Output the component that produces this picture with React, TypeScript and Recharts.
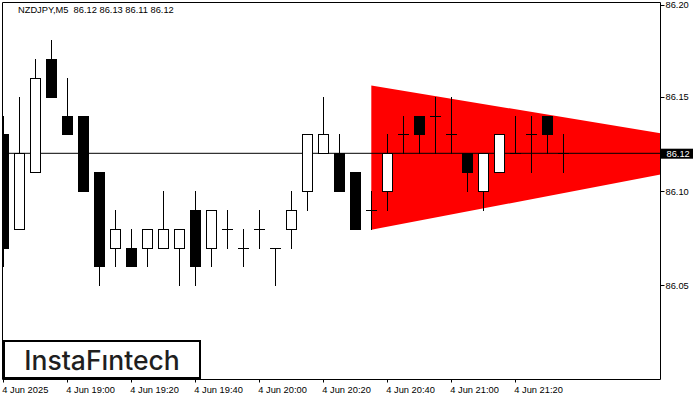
import { ComposedChart, XAxis, YAxis, Bar, Area, ReferenceLine, ReferenceArea } from 'recharts';

const symbolTitle = 'NZDJPY,M5  86.12 86.13 86.11 86.12';

// M5 bars from 4 Jun 18:40 to 21:35
const openPrices = [
  86.13, 86.08, 86.11, 86.17, 86.14, 86.14, 86.11, 86.07, 86.07, 86.07, 86.07, 86.07,
  86.09, 86.07, 86.08, 86.07, 86.08, 86.07, 86.08, 86.10, 86.12, 86.12, 86.11, 86.09,
  86.10, 86.13, 86.14, 86.14, 86.13, 86.12, 86.10, 86.11, 86.12, 86.13, 86.14, 86.12,
];
const highPrices = [
  86.14, 86.15, 86.17, 86.18, 86.16, 86.14, 86.11, 86.09, 86.08, 86.08, 86.10, 86.08,
  86.10, 86.09, 86.09, 86.08, 86.09, 86.07, 86.10, 86.13, 86.15, 86.13, 86.11, 86.10,
  86.13, 86.14, 86.14, 86.15, 86.15, 86.12, 86.12, 86.13, 86.14, 86.14, 86.14, 86.13,
];
const lowPrices = [
  86.06, 86.08, 86.11, 86.15, 86.13, 86.10, 86.05, 86.06, 86.06, 86.06, 86.07, 86.05,
  86.05, 86.06, 86.07, 86.06, 86.07, 86.05, 86.07, 86.09, 86.12, 86.10, 86.08, 86.08,
  86.09, 86.12, 86.12, 86.12, 86.12, 86.10, 86.09, 86.11, 86.12, 86.11, 86.12, 86.11,
];
const closePrices = [
  86.07, 86.12, 86.16, 86.15, 86.13, 86.10, 86.06, 86.08, 86.06, 86.08, 86.08, 86.08,
  86.06, 86.09, 86.08, 86.07, 86.08, 86.07, 86.09, 86.13, 86.13, 86.10, 86.08, 86.09,
  86.12, 86.13, 86.13, 86.14, 86.13, 86.11, 86.12, 86.13, 86.12, 86.13, 86.13, 86.12,
];

const timeTicks = [0, 4, 8, 12, 16, 20, 24, 28, 32];
const timeLabels = [
  '4 Jun 2025', '4 Jun 19:00', '4 Jun 19:20', '4 Jun 19:40', '4 Jun 20:00',
  '4 Jun 20:20', '4 Jun 20:40', '4 Jun 21:00', '4 Jun 21:20',
];

const priceTicks = [86.05, 86.1, 86.12, 86.15, 86.2];
const lastPrice = 86.12;

// symmetrical triangle: bar index -> lower / upper bound
const triangleBars = [23, 41.075];
const triangleUpper = [86.156, 86.1306];
const triangleLower = [86.0794, 86.1087];

const xStart = -0.05;
const xEnd = 41.075;

type Row = {
  idx: number;
  open?: number;
  high?: number;
  low?: number;
  close?: number;
  range?: number[];
  band?: number[];
};

const rows: Row[] = openPrices.map((open, i) => ({
  idx: i,
  open,
  high: highPrices[i],
  low: lowPrices[i],
  close: closePrices[i],
  range: [lowPrices[i], highPrices[i]],
}));
triangleBars.forEach((b, k) => {
  const band = [triangleLower[k], triangleUpper[k]];
  const row = rows.find((r) => r.idx === b);
  if (row) row.band = band;
  else rows.push({ idx: b, band });
});

const font = '"Liberation Sans", Arial, sans-serif';

function Candle(props: any) {
  const { x, y, width, height, payload } = props;
  if (!payload || payload.open == null || !Number.isFinite(x) || !Number.isFinite(y)) return <g />;
  const { open, high, low, close } = payload;
  const top = Math.min(y, y + height);
  const h = Math.abs(height);
  const py = (p: number) => Math.round(top + ((high - p) / (high - low)) * h);
  const col = Math.floor(x + width / 2 + 0.5);
  const yHigh = py(high);
  const yLow = py(low);
  const yOpen = py(open);
  const yClose = py(close);
  let body;
  if (close > open) {
    body = (
      <rect x={col - 4.5} y={yClose + 0.5} width={10} height={yOpen - yClose} fill="#fff" stroke="#000" strokeWidth={1} />
    );
  } else if (close < open) {
    body = <rect x={col - 5} y={yOpen} width={11} height={yClose - yOpen + 1} fill="#000" />;
  } else {
    body = <line x1={col - 5} x2={col + 6} y1={yOpen + 0.5} y2={yOpen + 0.5} stroke="#000" strokeWidth={1} />;
  }
  return (
    <g>
      <line x1={col + 0.5} x2={col + 0.5} y1={yHigh} y2={yLow + 1} stroke="#000" strokeWidth={1} />
      {body}
    </g>
  );
}

function TimeTick(props: any) {
  const { x, y, payload } = props;
  const col = Math.floor(x) + 0.5;
  const label = timeLabels[timeTicks.indexOf(payload.value)];
  return (
    <g>
      <line x1={col} x2={col} y1={y} y2={y + 3} stroke="#000" strokeWidth={1} />
      <text x={x - 1} y={y + 13.5} fontSize={9.3} fontFamily={font} fill="#000" textAnchor="start">
        {label}
      </text>
    </g>
  );
}

function PriceTick(props: any) {
  const { x, y, payload } = props;
  const v = payload.value;
  const ty = Math.max(y, 4.7);
  if (v === lastPrice) {
    return (
      <g>
        <rect x={x + 0.5} y={ty - 4.6} width={32} height={10} fill="#000" />
        <text x={x + 6} y={ty + 3.5} fontSize={9.3} fontFamily={font} fill="#fff" textAnchor="start">
          {v.toFixed(2)}
        </text>
      </g>
    );
  }
  const row = Math.round(ty) + 0.5;
  return (
    <g>
      <line x1={x} x2={x + 4} y1={row} y2={row} stroke="#000" strokeWidth={1} />
      <text x={x + 5} y={ty + 3.5} fontSize={9.3} fontFamily={font} fill="#000" textAnchor="start">
        {v.toFixed(2)}
      </text>
    </g>
  );
}

export default function App() {
  return (
    <div style={{ position: 'absolute', left: 0, top: 0, width: 700, height: 400, background: '#fff' }}>
      <ComposedChart
        width={700}
        height={400}
        data={rows}
        margin={{ top: 2.5, left: 2.5, right: 0, bottom: 0 }}
      >
        <XAxis
          dataKey="idx"
          type="number"
          domain={[xStart, xEnd]}
          allowDataOverflow
          ticks={timeTicks}
          height={20.5}
          tickSize={0}
          tickMargin={0}
          axisLine={false}
          tickLine={false}
          tick={<TimeTick />}
          interval={0}
        />
        <YAxis
          orientation="right"
          type="number"
          domain={[86, 86.2]}
          allowDataOverflow
          ticks={priceTicks}
          width={39.5}
          tickSize={0}
          tickMargin={0}
          axisLine={false}
          tickLine={false}
          tick={<PriceTick />}
          interval={0}
        />
        <Area
          dataKey={(d: Row) => d.band}
          type="linear"
          fill="#ff0000"
          fillOpacity={1}
          stroke="none"
          connectNulls
          dot={false}
          activeDot={false}
          isAnimationActive={false}
        />
        <ReferenceLine y={lastPrice} stroke="#000" strokeWidth={1} zIndex={200} />
        <Bar
          dataKey={(d: Row) => d.range}
          barSize={11}
          shape={<Candle />}
          isAnimationActive={false}
        />
        <ReferenceArea
          x1={xStart}
          x2={xEnd}
          y1={86}
          y2={86.2}
          fill="none"
          fillOpacity={0}
          stroke="#000"
          strokeWidth={1}
          strokeOpacity={1}
          ifOverflow="visible"
        />
      </ComposedChart>
      <div
        style={{
          position: 'absolute',
          left: 18,
          top: 6,
          fontFamily: font,
          fontSize: 9.3,
          lineHeight: '9.3px',
          whiteSpace: 'pre',
          color: '#000',
        }}
      >
        {symbolTitle}
      </div>
      <div
        style={{
          position: 'absolute',
          left: 3,
          top: 340,
          width: 194,
          height: 35,
          border: '2px solid #000',
          background: '#fff',
          display: 'flex',
          alignItems: 'center',
          justifyContent: 'center',
          fontFamily: 'Inter, sans-serif',
          fontWeight: 500,
          fontSize: 26.5,
          color: '#1f1f1f',
        }}
      >
        InstaFıntech
      </div>
    </div>
  );
}
